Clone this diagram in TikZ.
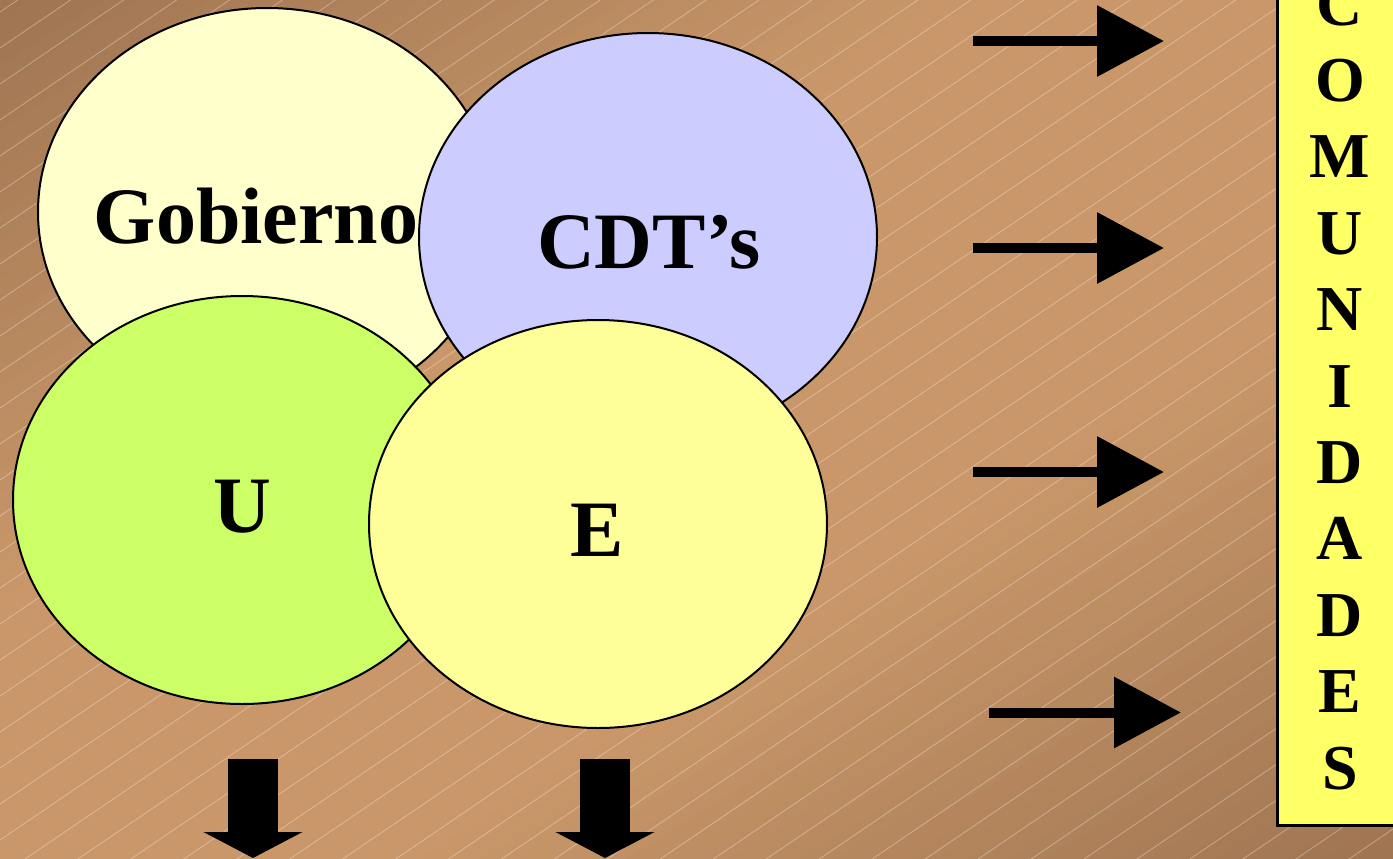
\documentclass[tikz,border=0pt]{standalone}
\usepackage{fontspec}
\setmainfont{Liberation Serif}
\usetikzlibrary{shapes.geometric,arrows.meta}

\definecolor{bgL}{HTML}{C99769}
\definecolor{bgD}{HTML}{9F7552}
\definecolor{gobfill}{HTML}{FFFFCC}
\definecolor{cdtfill}{HTML}{CCCCFF}
\definecolor{ufill}{HTML}{CCFF66}
\definecolor{efill}{HTML}{FFFF99}
\definecolor{boxfill}{HTML}{FFFF66}

\tikzset{
  bubble/.style={ellipse, draw=black, line width=1pt, inner sep=0pt,
                 minimum width=229pt, minimum height=204pt},
  bigtext/.style={anchor=base, inner sep=0pt,
                  font=\bfseries\fontsize{40}{48}\selectfont},
  lettertext/.style={anchor=base, inner sep=0pt,
                     font=\bfseries\fontsize{32}{38}\selectfont},
  rarrow/.style={line width=5pt, line cap=butt,
                 -{Triangle[length=33.5pt,width=34.5pt]}},
  darrow/.style={line width=25pt, line cap=butt,
                 -{Triangle[length=13pt,width=49pt]}},
  hatch/.style={white, opacity=0.33, line width=0.4pt},
}

\begin{document}
\begin{tikzpicture}[x=0.5pt,y=-0.5pt]
  \useasboundingbox (0,0) rectangle (1393,858);
  \clip (0,0) rectangle (1393,858);

  % background: diagonal bands, darker towards two opposite corners
  \foreach \i in {0,...,79}{
    \pgfmathsetmacro\ca{-2+\i*0.05}
    \pgfmathsetmacro\cb{\ca+0.06}
    \pgfmathsetmacro\am{abs(\ca+0.025)}
    \pgfmathtruncatemacro\pl{\am<0.6 ? 100 : 100*(2-\am)/1.4}
    \fill[bgL!\pl!bgD]
      ({696.5+696.5*(\ca/2-2.2)},{429+429*(\ca/2+2.2)}) --
      ({696.5+696.5*(\ca/2+2.2)},{429+429*(\ca/2-2.2)}) --
      ({696.5+696.5*(\cb/2+2.2)},{429+429*(\cb/2-2.2)}) --
      ({696.5+696.5*(\cb/2-2.2)},{429+429*(\cb/2+2.2)}) -- cycle;
  }
  % thin light hatching
  \foreach \k in {0,...,52}{
    \draw[hatch] (0,{12+36*\k}) -- (1393,{12+36*\k-947});
  }

  % overlapping ellipses
  \node[bubble, fill=gobfill] (gob) at (267,212) {};
  \node[bubble, fill=cdtfill] (cdt) at (648,237) {};
  \node[bubble, fill=ufill]   (uu)  at (242,500) {};
  \node[bubble, fill=efill]   (ee)  at (598,524) {};

  \node[bigtext] (gobtxt) at (256,243) {Gobierno};
  \node[bigtext] (cdttxt) at (649,268) {CDT’s};
  \node[bigtext] (utxt)   at (242,532) {U};
  \node[bigtext] (etxt)   at (597,556) {E};

  % right-pointing arrows
  \coordinate (a1s) at (973,41);    \coordinate (a1e) at (1164,41);
  \coordinate (a2s) at (973,248);   \coordinate (a2e) at (1164,248);
  \coordinate (a3s) at (973,472);   \coordinate (a3e) at (1164,472);
  \coordinate (a4s) at (989,712.5); \coordinate (a4e) at (1181,712.5);
  \draw[rarrow] (a1s) -- (a1e);
  \draw[rarrow] (a2s) -- (a2e);
  \draw[rarrow] (a3s) -- (a3e);
  \draw[rarrow] (a4s) -- (a4e);

  % downward block arrows
  \coordinate (d1s) at (253,759); \coordinate (d1e) at (253,858);
  \coordinate (d2s) at (605,759); \coordinate (d2e) at (605,858);
  \draw[darrow] (d1s) -- (d1e);
  \draw[darrow] (d2s) -- (d2e);

  % vertical label box, running past the top and right edges
  \draw[fill=boxfill, line width=1.5pt] (1277,-20) rectangle (1420,825);
  \foreach \l [count=\n from 0] in {C,O,M,U,N,I,D,A,D,E,S}{
    \node[lettertext] (let\n) at (1340,{25+76.4*\n}) {\l};
  }
\end{tikzpicture}
\end{document}
